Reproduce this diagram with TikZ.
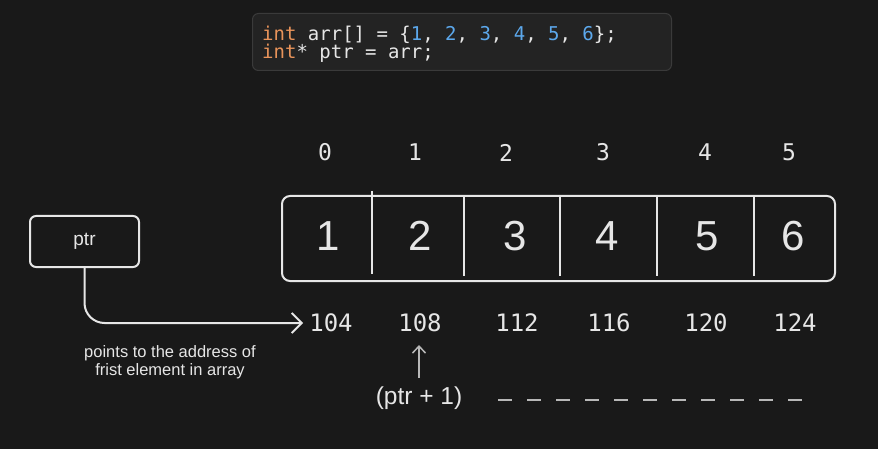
\documentclass[tikz,border=0pt]{standalone}
\usepackage{fontspec}
\setmainfont{Liberation Sans}
\newfontfamily\codefont{DejaVu Sans Mono}
\usetikzlibrary{arrows.meta}
\definecolor{bg}{HTML}{191919}
\definecolor{codebg}{HTML}{232323}
\definecolor{codeborder}{HTML}{3A3A3A}
\definecolor{kw}{HTML}{E8935A}
\definecolor{num}{HTML}{5CA8EC}
\definecolor{ink}{HTML}{E6E6E6}
\definecolor{soft}{HTML}{B8B8B8}
\tikzset{
  codebox/.style={draw=codeborder, fill=codebg, line width=1pt, rounded corners=6pt, inner sep=0pt},
  codeline/.style={anchor=base west, inner sep=0pt, text=ink, font=\codefont\fontsize{19}{23}\selectfont},
  hbox/.style={draw=ink, line width=2pt, rounded corners=8pt, inner sep=0pt},
  divider/.style={draw=ink, line width=2pt},
  cellval/.style={text=ink, inner sep=0pt, font=\fontsize{42}{46}\selectfont},
  idxlabel/.style={text=ink, inner sep=0pt, font=\codefont\fontsize{23}{26}\selectfont},
  addrlabel/.style={text=ink, inner sep=0pt, font=\codefont\fontsize{24}{27}\selectfont},
  ptrbox/.style={draw=ink, line width=2pt, rounded corners=6pt, inner sep=0pt, text=ink, font=\fontsize{19}{22}\selectfont},
  note/.style={text=ink, inner sep=0pt, align=center, font=\fontsize{16.5}{18}\selectfont},
  ptrplus/.style={text=ink, inner sep=0pt, font=\fontsize{24.5}{28}\selectfont},
  mainarrow/.style={draw=ink, line width=2pt, rounded corners=20pt, -{Straight Barb[length=10pt,width=20pt,line width=2pt]}},
  uparrow/.style={draw=soft, line width=1.5pt, -{Straight Barb[length=7pt,width=13pt,line width=1.5pt]}},
  dashline/.style={draw=soft, line width=2pt, dash pattern=on 14pt off 15pt}
}
\begin{document}
\begin{tikzpicture}[x=1pt,y=-1pt]
\fill[bg] (0,0) rectangle (878,449);
\useasboundingbox (0,0) rectangle (878,449);

% code box
\node[codebox, minimum width=419pt, minimum height=57pt, anchor=north west] (code) at (252,13) {};
\node[codeline] (l1) at (262,40.5) {\textcolor{kw}{int} arr[] = \{\textcolor{num}{1}, \textcolor{num}{2}, \textcolor{num}{3}, \textcolor{num}{4}, \textcolor{num}{5}, \textcolor{num}{6}\};};
\node[codeline] (l2) at (262,59) {\textcolor{kw}{int}* ptr = arr;};

% indices
\node[idxlabel] (i0) at (325,152.5) {0};
\node[idxlabel] (i1) at (415,152.5) {1};
\node[idxlabel] (i2) at (506,152.5) {2};
\node[idxlabel] (i3) at (603,152.5) {3};
\node[idxlabel] (i4) at (705,152.5) {4};
\node[idxlabel] (i5) at (789,152.5) {5};

% array
\node[hbox, minimum width=553pt, minimum height=85pt, anchor=north west] (arr) at (281,195) {};
\draw[divider] (372,191) -- (372,274);
\draw[divider] (463.5,197) -- (463.5,276);
\draw[divider] (560,197) -- (560,276);
\draw[divider] (656.5,197) -- (656.5,276);
\draw[divider] (754,197) -- (754,276);
\node[cellval] (c0) at (328,236) {1};
\node[cellval] (c1) at (420,236) {2};
\node[cellval] (c2) at (515,236) {3};
\node[cellval] (c3) at (607,236) {4};
\node[cellval] (c4) at (707,236) {5};
\node[cellval] (c5) at (793,236) {6};

% addresses
\node[addrlabel] (a0) at (331,323) {104};
\node[addrlabel] (a1) at (420,323) {108};
\node[addrlabel] (a2) at (517,323) {112};
\node[addrlabel] (a3) at (609,323) {116};
\node[addrlabel] (a4) at (706,323) {120};
\node[addrlabel] (a5) at (795,323) {124};

% pointer box
\node[ptrbox, minimum width=109pt, minimum height=51pt] (ptr) at (84.5,241.5) {ptr};
\draw[mainarrow, shorten >=6pt] (ptr.south) |- (a0.west);

\node[note] (nt) at (170,362) {points to the address of\\frist element in array};

% ptr + 1
\node[ptrplus] (pp) at (419,398) {(ptr + 1)};
\coordinate (ua0) at (419,378);
\coordinate (ua1) at (419,345);
\draw[uparrow] (ua0) -- (ua1);
\coordinate (d0) at (498,400);
\coordinate (d1) at (802,400);
\draw[dashline] (d0) -- (d1);
\end{tikzpicture}
\end{document}
